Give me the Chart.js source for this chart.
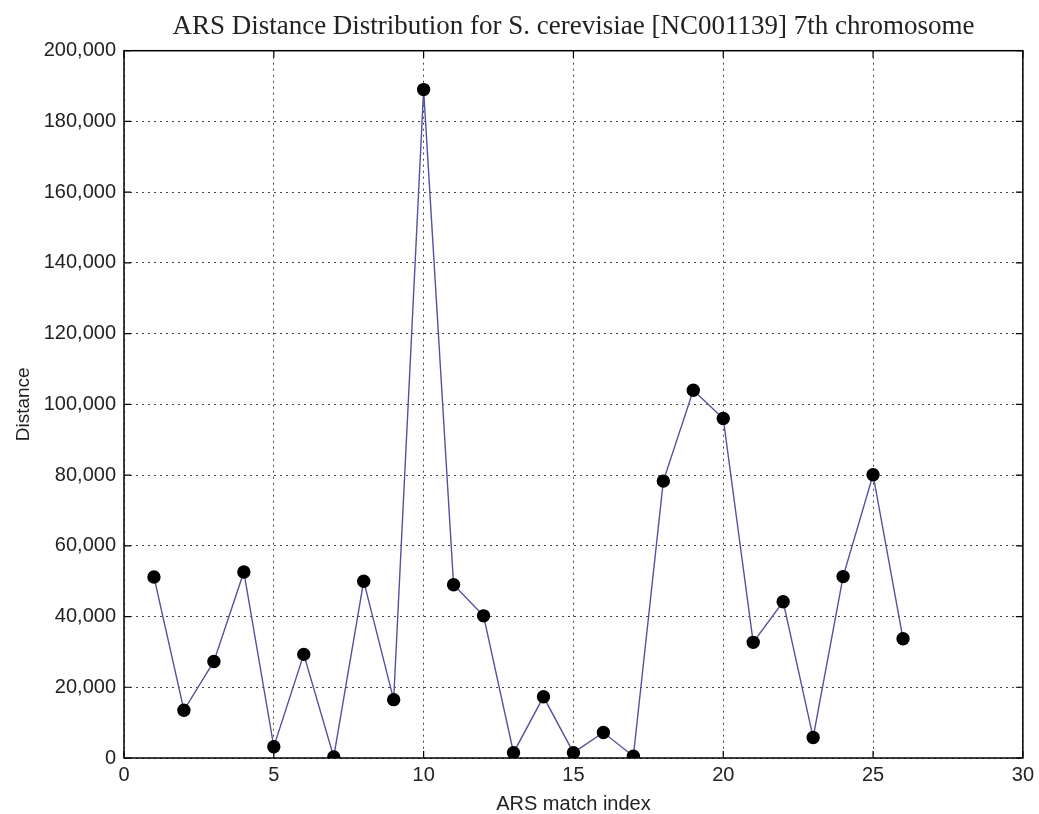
<!DOCTYPE html>
<html>
<head>
<meta charset="utf-8">
<script src="https://cdn.jsdelivr.net/npm/chart.js@4/dist/chart.umd.min.js"></script>
<style>
  html, body { margin: 0; padding: 0; background: #fff; }
  #wrap { width: 1039px; height: 814px; }
</style>
</head>
<body>
<div id="wrap"><canvas id="arsChart"></canvas></div>
<script>
// ARS match index and distance between matches
const matchIndex = [1, 2, 3, 4, 5, 6, 7, 8, 9, 10, 11, 12, 13, 14, 15, 16, 17, 18, 19, 20, 21, 22, 23, 24, 25, 26];
const distances = [51200, 13500, 27300, 52600, 3200, 29300, 300, 50000, 16500, 189000, 49000, 40200,
                   1500, 17300, 1500, 7200, 500, 78300, 104000, 96000, 32700, 44200, 5800, 51300, 80100, 33700];
const xTicks = { min: 0, max: 30, step: 5 };
const yTicks = { min: 0, max: 200000, step: 20000 };

const points = matchIndex.map((x, i) => ({ x: x, y: distances[i] }));

// box round the plot area plus inward tick marks, like the matlab axes
const frame = {
    id: 'frame',
    afterDraw(chart) {
        const a = chart.chartArea;
        const ctx = chart.ctx;
        const len = 7;
        ctx.save();
        ctx.strokeStyle = '#000';
        ctx.lineWidth = 1.5;
        ctx.strokeRect(a.left, a.top, a.right - a.left, a.bottom - a.top);
        ctx.lineWidth = 1.2;
        ctx.beginPath();
        chart.scales.x.ticks.forEach(t => {
            const px = chart.scales.x.getPixelForValue(t.value);
            ctx.moveTo(px, a.bottom); ctx.lineTo(px, a.bottom - len);
            ctx.moveTo(px, a.top); ctx.lineTo(px, a.top + len);
        });
        chart.scales.y.ticks.forEach(t => {
            const py = chart.scales.y.getPixelForValue(t.value);
            ctx.moveTo(a.left, py); ctx.lineTo(a.left + len, py);
            ctx.moveTo(a.right, py); ctx.lineTo(a.right - len, py);
        });
        ctx.stroke();
        ctx.restore();
    }
};

const sans = 'Liberation Sans, Arial, sans-serif';

new Chart(document.getElementById('arsChart'), {
    type: 'line',
    data: {
        datasets: [{
            data: points,
            borderColor: '#52529e',
            borderWidth: 1.4,
            pointBackgroundColor: '#000',
            pointBorderColor: '#000',
            pointRadius: 6,
            pointHoverRadius: 6,
            tension: 0
        }]
    },
    options: {
        responsive: true,
        maintainAspectRatio: false,
        animation: false,
        layout: { padding: { left: 0, right: 15, top: 0, bottom: 0 } },
        scales: {
            x: {
                type: 'linear',
                min: xTicks.min,
                max: xTicks.max,
                afterFit: s => { s.height = 56; },
                ticks: { stepSize: xTicks.step, color: '#222', font: { family: sans, size: 20 }, padding: 5 },
                grid: { color: '#444', lineWidth: 1, drawTicks: false },
                border: { display: false, dash: [2, 4] },
                title: {
                    display: true,
                    text: 'ARS match index',
                    color: '#222',
                    font: { family: sans, size: 20, lineHeight: 1 },
                    padding: { top: 0, bottom: 0 }
                }
            },
            y: {
                min: yTicks.min,
                max: yTicks.max,
                afterFit: s => { s.width = 124; },
                ticks: {
                    stepSize: yTicks.step,
                    color: '#222',
                    font: { family: sans, size: 20 },
                    padding: 8,
                    callback: v => v.toLocaleString('en-US')
                },
                grid: { color: '#444', lineWidth: 1, drawTicks: false },
                border: { display: false, dash: [2, 4] },
                title: {
                    display: true,
                    text: 'Distance',
                    color: '#222',
                    font: { family: sans, size: 19 },
                    padding: { top: 12, bottom: 0 }
                }
            }
        },
        plugins: {
            legend: { display: false },
            tooltip: { enabled: false },
            title: {
                display: true,
                fullSize: false,
                text: 'ARS Distance Distribution for S. cerevisiae [NC001139] 7th chromosome',
                color: '#222',
                font: { family: 'Liberation Serif, Times New Roman, serif', size: 27, weight: 'normal', lineHeight: 1.1 },
                padding: { top: 12, bottom: 9 }
            }
        }
    },
    plugins: [frame]
});
</script>
</body>
</html>
